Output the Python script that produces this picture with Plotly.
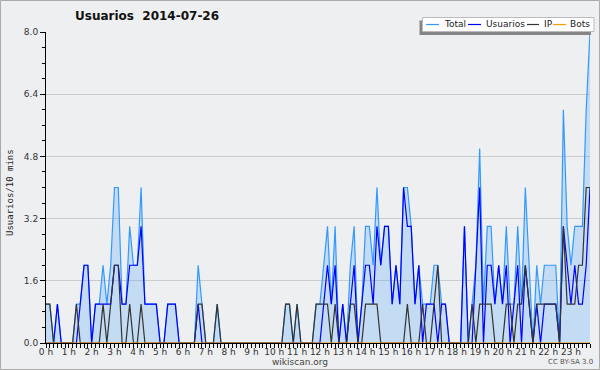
import plotly.graph_objects as go

# 10-minute slots over the day (144 slots), index -> hours
slots = list(range(144))

total = [1,1,0,1,0,0,0,0,1,1,2,2,0,1,1,2,1,2,4,4,
         1,1,3,2,2,4,1,1,1,1,0,0,1,1,1,0,0,0,0,0,
         2,1,0,0,0,1,0,0,0,0,0,0,0,0,0,0,0,0,0,0,
         0,0,0,1,1,0,1,0,0,0,0,1,1,2,3,1,3,0,1,0,
         2,3,0,1,3,3,2,4,2,3,3,1,2,1,4,4,3,1,2,1,
         1,1,2,2,1,1,0,0,0,0,3,0,1,2,5,1,3,3,1,2,
         1,3,1,1,3,1,4,2,0,2,1,2,2,2,2,0,6,3,2,3,
         3,3,6,8]
usuarios = [0,0,0,1,0,0,0,0,0,1,2,2,0,1,1,1,1,1,2,2,
            1,1,2,2,2,3,1,1,1,1,0,0,1,1,1,0,0,0,0,0,
            1,0,0,0,0,0,0,0,0,0,0,0,0,0,0,0,0,0,0,0,
            0,0,0,0,0,0,0,0,0,0,0,0,0,1,2,1,2,0,1,0,
            1,2,0,1,2,2,1,3,2,3,3,1,2,1,4,3,3,1,2,0,
            1,1,1,0,1,1,0,0,0,0,3,0,0,2,4,0,2,2,1,2,
            1,2,0,1,2,0,2,1,0,1,0,1,1,1,1,0,3,2,1,2,
            1,1,2,4]
ip = [1,1,0,0,0,0,0,0,1,0,0,0,0,0,0,1,0,1,2,2,
      0,0,1,0,0,1,0,0,0,0,0,0,0,0,0,0,0,0,0,0,
      1,1,0,0,0,1,0,0,0,0,0,0,0,0,0,0,0,0,0,0,
      0,0,0,1,1,0,1,0,0,0,0,1,1,1,1,0,1,0,0,0,
      1,1,0,0,1,1,1,1,0,0,0,0,0,0,0,1,0,0,0,1,
      0,0,1,2,0,0,0,0,0,0,0,0,1,0,1,1,1,1,0,0,
      0,1,1,0,1,1,2,1,0,1,1,1,1,1,1,0,3,1,1,1,
      2,2,4,4]
bots = [0] * 144

hour_ticks = list(range(24))
hour_labels = ["0 h","1 h","2 h","3 h","4 h","5 h","6 h","7 h","8 h","9 h","10 h","11 h",
               "12 h","13 h","14 h","15 h","16 h","17 h","18 h","19 h","20 h","21 h","22 h","23 h"]

series_names = ["Total", "Usuarios", "IP", "Bots"]
series_colors = ["#3399FF", "#0000FF", "#333333", "#FF9900"]

x = [s / 6 for s in slots]

BG = "#EEEFF0"
fig = go.Figure()
fig.add_trace(go.Scatter(x=x, y=total, name="Total", mode="lines",
                         line=dict(color=series_colors[0], width=1.2),
                         fill="tozeroy", fillcolor="rgba(51,153,255,0.22)",
                         hoverinfo="skip"))
fig.add_trace(go.Scatter(x=x, y=usuarios, name="Usuarios", mode="lines",
                         line=dict(color=series_colors[1], width=1.2), hoverinfo="skip"))
fig.add_trace(go.Scatter(x=x, y=ip, name="IP", mode="lines",
                         line=dict(color=series_colors[2], width=1.2), hoverinfo="skip"))
fig.add_trace(go.Scatter(x=x, y=bots, name="Bots", mode="lines",
                         line=dict(color=series_colors[3], width=1.2), hoverinfo="skip"))

L, R, T, B = 46, 10, 32, 27
W, H = 600, 370
pw, ph = W - L - R, H - T - B


def px(v):
    return (v - L) / pw


def py(v):
    return 1 - (v - T) / ph


fig.update_layout(
    width=W, height=H,
    margin=dict(l=L, r=R, t=T, b=B, autoexpand=False),
    paper_bgcolor=BG, plot_bgcolor=BG,
    font=dict(family="DejaVu Sans", size=9, color="#333333"),
    showlegend=False,
    title=dict(text="<b>Usuarios  2014-07-26</b>", x=75 / W, xanchor="left",
               y=1 - 16 / H, yanchor="middle",
               font=dict(family="DejaVu Sans", size=12, color="#111111")),
    xaxis=dict(range=[0, 143 / 6], tickvals=hour_ticks, ticktext=hour_labels,
               showgrid=False, zeroline=False, showline=True, linecolor="black",
               linewidth=1, ticks="outside", ticklen=4, tickcolor="black",
               ticklabelstandoff=-4,
               minor=dict(dtick=1 / 6, tick0=0, ticks="outside", ticklen=4,
                          tickcolor="black", showgrid=False),
               tickfont=dict(size=9, color="#333333"), fixedrange=True),
    yaxis=dict(range=[0, 8], tick0=0, dtick=1.6, tickformat=".1f",
               showgrid=True, gridcolor="#CCCCCC", gridwidth=1, zeroline=False,
               showline=True, linecolor="black", linewidth=1,
               ticks="outside", ticklen=5, tickcolor="black",
               minor=dict(dtick=0.4, tick0=0, ticks="outside", ticklen=3,
                          tickcolor="black", showgrid=False),
               tickfont=dict(size=9, color="#333333"), fixedrange=True),
)

# y-axis title
fig.add_annotation(text="Usuarios/10 mins", textangle=-90, showarrow=False,
                   xref="paper", yref="paper", x=px(10), y=py(193),
                   xanchor="center", yanchor="middle",
                   font=dict(family="DejaVu Sans Mono", size=9, color="#222222"))
# footer texts
fig.add_annotation(text="wikiscan.org", showarrow=False, xref="paper", yref="paper",
                   x=px(300), y=py(362), xanchor="center", yanchor="middle",
                   font=dict(size=9, color="#444444"))
fig.add_annotation(text="CC BY-SA 3.0", showarrow=False, xref="paper", yref="paper",
                   x=px(595), y=py(362), xanchor="right", yanchor="middle",
                   font=dict(size=7, color="#555555"))
# outer border
fig.add_shape(type="rect", xref="paper", yref="paper",
              x0=px(0.5), x1=px(W - 0.5), y0=py(H - 0.5), y1=py(0.5),
              line=dict(color="#AAAAAA", width=1), layer="below")

# custom legend box with shadow
fig.add_shape(type="rect", xref="paper", yref="paper",
              x0=px(419.5), x1=px(591), y0=py(35), y1=py(20.5),
              line=dict(width=0), fillcolor="#858585", layer="above")
fig.add_shape(type="rect", xref="paper", yref="paper",
              x0=px(422.5), x1=px(594), y0=py(31.5), y1=py(17.5),
              line=dict(color="#BBBBBB", width=1), fillcolor="white", layer="above")
legend_line_x = [(426, 439), (468, 481), (527, 539), (553, 566)]
legend_text_x = [442, 484, 542, 568]
for name, col, (a, b), tx in zip(series_names, series_colors, legend_line_x, legend_text_x):
    fig.add_shape(type="line", xref="paper", yref="paper",
                  x0=px(a), x1=px(b), y0=py(24.5), y1=py(24.5),
                  line=dict(color=col, width=1.2), layer="above")
    fig.add_annotation(text=name, showarrow=False, xref="paper", yref="paper",
                       x=px(tx), y=py(24.5), xanchor="left", yanchor="middle",
                       font=dict(size=9, color="#222222"))

fig.write_html("out.html", config={"displayModeBar": False, "staticPlot": True},
               post_script="document.body.style.margin='0';document.body.style.overflow='hidden';")
